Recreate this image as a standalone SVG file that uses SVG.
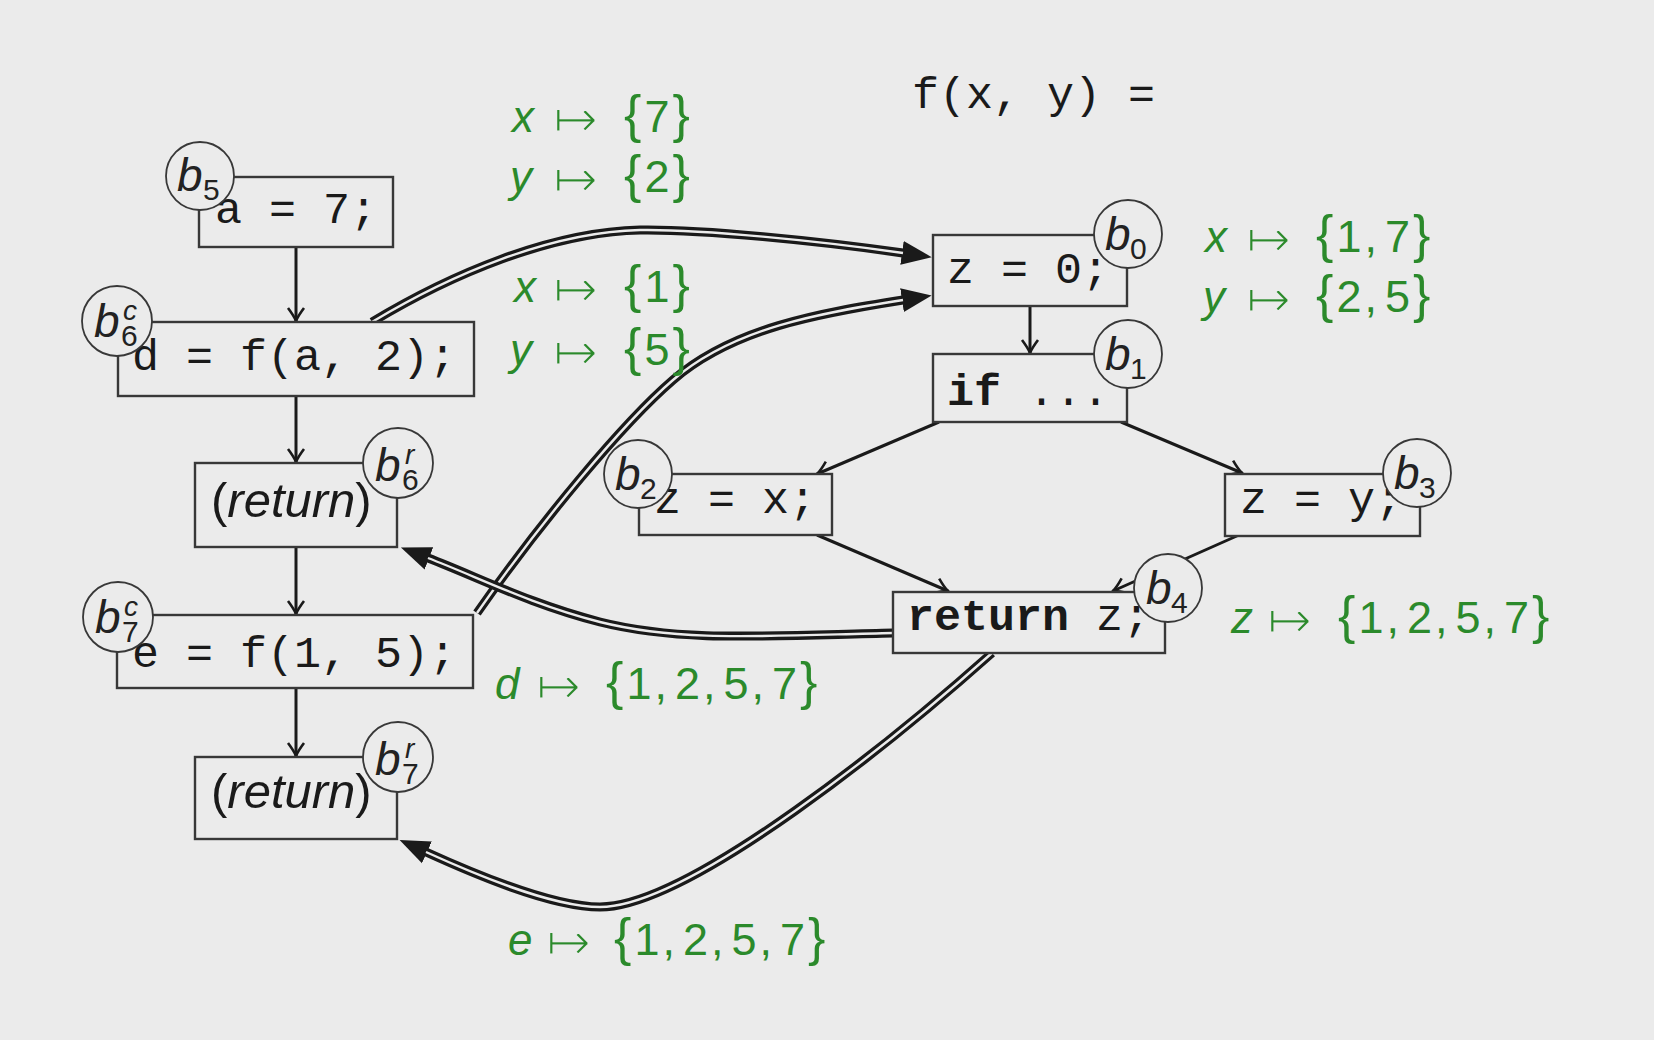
<svg xmlns="http://www.w3.org/2000/svg" width="1654" height="1040" viewBox="0 0 1654 1040">
<defs>
<style>
.bg{fill:#ebebeb}
.box{fill:#ebebeb;stroke:#383838;stroke-width:2.4}
.lc{fill:#ebebeb;stroke:#383838;stroke-width:1.8}
.code{font-family:"Liberation Mono","DejaVu Sans Mono",monospace;font-size:45px;fill:#1a1a1a}
.kw{font-weight:bold}
.ret{font-family:"Liberation Sans",Arial,sans-serif;font-size:49px;fill:#1a1a1a}
.itl{font-style:italic}
.bl{font-family:"Liberation Sans",Arial,sans-serif;font-style:italic;font-size:46px;fill:#222}
.sb{font-family:"Liberation Sans",Arial,sans-serif;font-size:30px;fill:#222}
.sp{font-family:"Liberation Sans",Arial,sans-serif;font-style:italic;font-size:28px;fill:#222}
.gv{font-family:"Liberation Sans",Arial,sans-serif;font-style:italic;font-size:44px;fill:#2b8a2b}
.ga{font-family:"DejaVu Sans",sans-serif;font-size:54px;fill:#2b8a2b;stroke:#ebebeb;stroke-width:2.2}
.gs{font-family:"Liberation Sans",Arial,sans-serif;font-size:45px;fill:#2b8a2b;letter-spacing:3px}
.gb{font-size:52px}
.e{fill:none;stroke:#1a1a1a;stroke-width:3;marker-end:url(#ah)}
.dO{fill:none;stroke:#1a1a1a;stroke-width:9;marker-end:url(#dh)}
.dI{fill:none;stroke:#ebebeb;stroke-width:2.4}
</style>
<marker id="ah" markerUnits="userSpaceOnUse" viewBox="-16 -11 18 22" markerWidth="18" markerHeight="22" refX="0" refY="0" orient="auto">
<path d="M-13,-8 Q-5,-2 0,0 Q-5,2 -13,8" fill="none" stroke="#1a1a1a" stroke-width="2.6"/>
</marker>
<marker id="dh" markerUnits="userSpaceOnUse" viewBox="0 -13 32 26" markerWidth="32" markerHeight="26" refX="1" refY="0" orient="auto">
<path d="M0,-12 L30,0 L0,12 z" fill="#1a1a1a"/>
</marker>
</defs>
<rect class="bg" x="0" y="0" width="1654" height="1040"/>

<text class="code" x="912" y="108">f(x, y) =</text>

<g id="connectors">
<line class="e" x1="296" y1="247" x2="296" y2="321"/>
<line class="e" x1="296" y1="396" x2="296" y2="462"/>
<line class="e" x1="296" y1="547" x2="296" y2="614"/>
<line class="e" x1="296" y1="688" x2="296" y2="756"/>
<line class="e" x1="1030" y1="306" x2="1030" y2="353"/>
<line class="e" x1="939" y1="422" x2="817" y2="474"/>
<line class="e" x1="1121" y1="422" x2="1242" y2="473"/>
<line class="e" x1="817" y1="535" x2="948" y2="591"/>
<line class="e" x1="1239" y1="535" x2="1113" y2="591"/>
<path class="dO" d="M372,322 C450,275 550,232 640,230 C700,229 820,241 903,253"/>
<path class="dI" d="M372,322 C450,275 550,232 640,230 C700,229 820,241 903,253"/>
<path class="dO" d="M477,613 C540,523 623,423 673,380 C733,328 820,313 903,300"/>
<path class="dI" d="M477,613 C540,523 623,423 673,380 C733,328 820,313 903,300"/>
<path class="dO" d="M893,633 C760,636 680,642 600,622 C530,604 480,578 428,558"/>
<path class="dI" d="M893,633 C760,636 680,642 600,622 C530,604 480,578 428,558"/>
<path class="dO" d="M992,653 C900,735 690,907 600,907 C550,907 470,872 426,852"/>
<path class="dI" d="M992,653 C900,735 690,907 600,907 C550,907 470,872 426,852"/>
</g>

<g id="b5">
<rect class="box" x="199" y="177" width="194" height="70"/>
<text class="code" x="215" y="223">a = 7;</text>
<circle class="lc" cx="200" cy="176" r="34"/>
<text class="bl" x="177" y="191">b</text><text class="sb" x="203" y="200">5</text>
</g>

<g id="b6c">
<rect class="box" x="118" y="322" width="356" height="74"/>
<text class="code" x="132" y="370">d = f(a, 2);</text>
<circle class="lc" cx="117" cy="321" r="35"/>
<text class="bl" x="94" y="337">b</text><text class="sp" x="123" y="320">c</text><text class="sb" x="121" y="346">6</text>
</g>

<g id="b6r">
<rect class="box" x="195" y="463" width="202" height="84"/>
<text class="ret" x="211" y="517">(<tspan class="itl">return</tspan>)</text>
<circle class="lc" cx="398" cy="463" r="35"/>
<text class="bl" x="375" y="481">b</text><text class="sp" x="405" y="464">r</text><text class="sb" x="402" y="490">6</text>
</g>

<g id="b7c">
<rect class="box" x="117" y="615" width="356" height="73"/>
<text class="code" x="132" y="667">e = f(1, 5);</text>
<circle class="lc" cx="118" cy="617" r="35"/>
<text class="bl" x="95" y="633">b</text><text class="sp" x="124" y="616">c</text><text class="sb" x="122" y="642">7</text>
</g>

<g id="b7r">
<rect class="box" x="195" y="757" width="202" height="82"/>
<text class="ret" x="211" y="808">(<tspan class="itl">return</tspan>)</text>
<circle class="lc" cx="398" cy="757" r="35"/>
<text class="bl" x="375" y="775">b</text><text class="sp" x="405" y="758">r</text><text class="sb" x="402" y="784">7</text>
</g>

<g id="b0">
<rect class="box" x="933" y="235" width="194" height="71"/>
<text class="code" x="947" y="283">z = 0;</text>
<circle class="lc" cx="1128" cy="234" r="34"/>
<text class="bl" x="1105" y="250">b</text><text class="sb" x="1130" y="259">0</text>
</g>

<g id="b1">
<rect class="box" x="933" y="354" width="194" height="68"/>
<text class="code" x="947" y="405"><tspan class="kw">if</tspan> ...</text>
<circle class="lc" cx="1128" cy="354" r="34"/>
<text class="bl" x="1105" y="370">b</text><text class="sb" x="1130" y="379">1</text>
</g>

<g id="b2">
<rect class="box" x="639" y="474" width="193" height="61"/>
<text class="code" x="654" y="513">z = x;</text>
<circle class="lc" cx="638" cy="474" r="34"/>
<text class="bl" x="615" y="490">b</text><text class="sb" x="640" y="499">2</text>
</g>

<g id="b3">
<rect class="box" x="1225" y="474" width="195" height="62"/>
<text class="code" x="1240" y="513">z = y;</text>
<circle class="lc" cx="1417" cy="473" r="34"/>
<text class="bl" x="1394" y="489">b</text><text class="sb" x="1419" y="498">3</text>
</g>

<g id="b4">
<rect class="box" x="893" y="592" width="272" height="61"/>
<text class="code" x="907" y="630"><tspan class="kw">return</tspan> z;</text>
<circle class="lc" cx="1168" cy="588" r="34"/>
<text class="bl" x="1146" y="604">b</text><text class="sb" x="1171" y="613">4</text>
</g>

<g id="annotations">
<text class="gv" x="512" y="132">x</text><text class="ga" x="553" y="137">↦</text><text class="gs" x="624" y="132"><tspan class="gb">{</tspan>7<tspan class="gb">}</tspan></text>
<text class="gv" x="510" y="192">y</text><text class="ga" x="553" y="197">↦</text><text class="gs" x="624" y="192"><tspan class="gb">{</tspan>2<tspan class="gb">}</tspan></text>
<text class="gv" x="514" y="302">x</text><text class="ga" x="553" y="307">↦</text><text class="gs" x="624" y="302"><tspan class="gb">{</tspan>1<tspan class="gb">}</tspan></text>
<text class="gv" x="510" y="365">y</text><text class="ga" x="553" y="370">↦</text><text class="gs" x="624" y="365"><tspan class="gb">{</tspan>5<tspan class="gb">}</tspan></text>
<text class="gv" x="1205" y="252">x</text><text class="ga" x="1246" y="257">↦</text><text class="gs" x="1316" y="252"><tspan class="gb">{</tspan>1,<tspan dx="5">7</tspan><tspan class="gb">}</tspan></text>
<text class="gv" x="1203" y="312">y</text><text class="ga" x="1246" y="317">↦</text><text class="gs" x="1316" y="312"><tspan class="gb">{</tspan>2,<tspan dx="5">5</tspan><tspan class="gb">}</tspan></text>
<text class="gv" x="1231" y="633">z</text><text class="ga" x="1267" y="638">↦</text><text class="gs" x="1338" y="633"><tspan class="gb">{</tspan>1,<tspan dx="5">2,</tspan><tspan dx="5">5,</tspan><tspan dx="5">7</tspan><tspan class="gb">}</tspan></text>
<text class="gv" x="495" y="699">d</text><text class="ga" x="536" y="704">↦</text><text class="gs" x="606" y="699"><tspan class="gb">{</tspan>1,<tspan dx="5">2,</tspan><tspan dx="5">5,</tspan><tspan dx="5">7</tspan><tspan class="gb">}</tspan></text>
<text class="gv" x="508" y="955">e</text><text class="ga" x="546" y="960">↦</text><text class="gs" x="614" y="955"><tspan class="gb">{</tspan>1,<tspan dx="5">2,</tspan><tspan dx="5">5,</tspan><tspan dx="5">7</tspan><tspan class="gb">}</tspan></text>
</g>
</svg>
